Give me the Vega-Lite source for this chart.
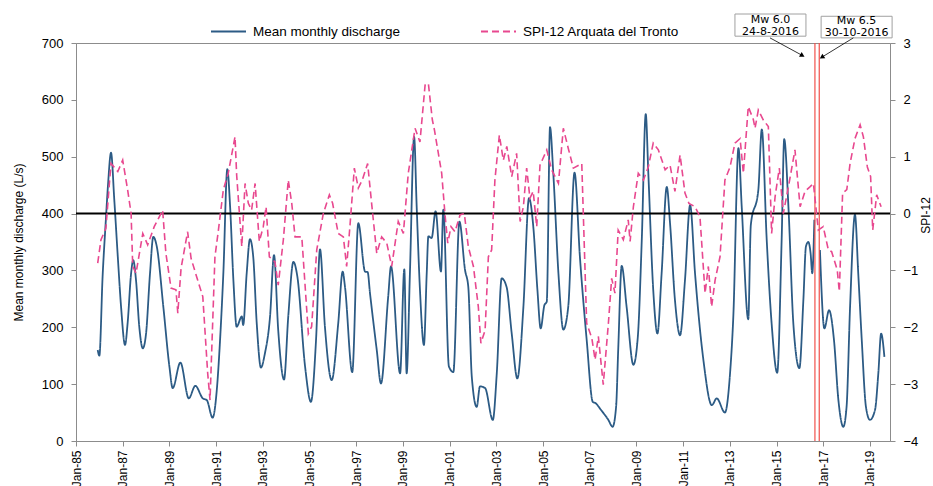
{
  "$schema": "https://vega.github.io/schema/vega-lite/v6.json",
  "width": 814,
  "height": 398,
  "autosize": {"type": "none"},
  "padding": {"left": 76, "top": 43, "right": 43, "bottom": 45},
  "background": "white",
  "config": {
    "view": {"stroke": "#8c8c8c", "strokeWidth": 1},
    "axis": {"labelFont": "Liberation Sans", "labelFontSize": 13, "labelColor": "#000", "titleFont": "Liberation Sans", "titleFontSize": 12, "titleFontWeight": "normal", "titleColor": "#000", "domainColor": "#8c8c8c", "tickColor": "#8c8c8c", "grid": false},
    "legend": {"labelFont": "Liberation Sans", "labelFontSize": 13.5, "labelColor": "#000", "padding": 0},
    "text": {"fontWeight": "normal"}
  },
  "data": {"values": [
    {"s":"Q","t":1985.93,"v":160},{"s":"Q","t":1986.00,"v":150},{"s":"Q","t":1986.14,"v":290},{"s":"Q","t":1986.28,"v":390},{"s":"Q","t":1986.37,"v":450},{"s":"Q","t":1986.50,"v":507},{"s":"Q","t":1986.64,"v":424},{"s":"Q","t":1986.79,"v":324},{"s":"Q","t":1986.93,"v":236},{"s":"Q","t":1987.10,"v":169},{"s":"Q","t":1987.21,"v":207},{"s":"Q","t":1987.36,"v":295},{"s":"Q","t":1987.45,"v":318},{"s":"Q","t":1987.57,"v":283},{"s":"Q","t":1987.71,"v":201},{"s":"Q","t":1987.86,"v":163},{"s":"Q","t":1988.00,"v":189},{"s":"Q","t":1988.17,"v":295},{"s":"Q","t":1988.31,"v":359},{"s":"Q","t":1988.46,"v":342},{"s":"Q","t":1988.74,"v":236},{"s":"Q","t":1989.00,"v":131},{"s":"Q","t":1989.14,"v":93},{"s":"Q","t":1989.47,"v":138},{"s":"Q","t":1989.83,"v":75},{"s":"Q","t":1990.11,"v":97},{"s":"Q","t":1990.43,"v":75},{"s":"Q","t":1990.60,"v":72},{"s":"Q","t":1990.85,"v":41},{"s":"Q","t":1991.03,"v":90},{"s":"Q","t":1991.17,"v":178},{"s":"Q","t":1991.31,"v":295},{"s":"Q","t":1991.48,"v":478},{"s":"Q","t":1991.60,"v":412},{"s":"Q","t":1991.74,"v":283},{"s":"Q","t":1991.88,"v":201},{"s":"Q","t":1992.10,"v":219},{"s":"Q","t":1992.16,"v":204},{"s":"Q","t":1992.31,"v":295},{"s":"Q","t":1992.45,"v":355},{"s":"Q","t":1992.59,"v":324},{"s":"Q","t":1992.74,"v":207},{"s":"Q","t":1992.92,"v":129},{"s":"Q","t":1993.09,"v":154},{"s":"Q","t":1993.31,"v":219},{"s":"Q","t":1993.48,"v":327},{"s":"Q","t":1993.66,"v":195},{"s":"Q","t":1993.91,"v":108},{"s":"Q","t":1994.09,"v":219},{"s":"Q","t":1994.31,"v":315},{"s":"Q","t":1994.48,"v":289},{"s":"Q","t":1994.81,"v":131},{"s":"Q","t":1995.06,"v":69},{"s":"Q","t":1995.28,"v":178},{"s":"Q","t":1995.45,"v":337},{"s":"Q","t":1995.66,"v":201},{"s":"Q","t":1995.95,"v":107},{"s":"Q","t":1996.23,"v":207},{"s":"Q","t":1996.42,"v":298},{"s":"Q","t":1996.52,"v":271},{"s":"Q","t":1996.83,"v":121},{"s":"Q","t":1997.09,"v":383},{"s":"Q","t":1997.38,"v":298},{"s":"Q","t":1997.49,"v":297},{"s":"Q","t":1997.59,"v":260},{"s":"Q","t":1997.88,"v":160},{"s":"Q","t":1998.06,"v":101},{"s":"Q","t":1998.37,"v":254},{"s":"Q","t":1998.49,"v":307},{"s":"Q","t":1998.88,"v":119},{"s":"Q","t":1999.06,"v":302},{"s":"Q","t":1999.16,"v":119},{"s":"Q","t":1999.30,"v":295},{"s":"Q","t":1999.48,"v":535},{"s":"Q","t":1999.59,"v":412},{"s":"Q","t":1999.73,"v":266},{"s":"Q","t":1999.90,"v":169},{"s":"Q","t":2000.02,"v":295},{"s":"Q","t":2000.09,"v":360},{"s":"Q","t":2000.23,"v":357},{"s":"Q","t":2000.40,"v":404},{"s":"Q","t":2000.63,"v":298},{"s":"Q","t":2000.73,"v":407},{"s":"Q","t":2000.97,"v":131},{"s":"Q","t":2001.16,"v":121},{"s":"Q","t":2001.42,"v":386},{"s":"Q","t":2001.66,"v":301},{"s":"Q","t":2001.80,"v":271},{"s":"Q","t":2001.95,"v":113},{"s":"Q","t":2002.16,"v":60},{"s":"Q","t":2002.30,"v":96},{"s":"Q","t":2002.52,"v":93},{"s":"Q","t":2002.85,"v":37},{"s":"Q","t":2003.02,"v":119},{"s":"Q","t":2003.23,"v":286},{"s":"Q","t":2003.44,"v":271},{"s":"Q","t":2003.66,"v":189},{"s":"Q","t":2003.90,"v":110},{"s":"Q","t":2004.16,"v":236},{"s":"Q","t":2004.40,"v":427},{"s":"Q","t":2004.59,"v":374},{"s":"Q","t":2004.76,"v":266},{"s":"Q","t":2004.90,"v":198},{"s":"Q","t":2005.06,"v":239},{"s":"Q","t":2005.16,"v":245},{"s":"Q","t":2005.30,"v":552},{"s":"Q","t":2005.44,"v":471},{"s":"Q","t":2005.66,"v":295},{"s":"Q","t":2005.87,"v":196},{"s":"Q","t":2006.08,"v":236},{"s":"Q","t":2006.35,"v":472},{"s":"Q","t":2006.58,"v":324},{"s":"Q","t":2006.87,"v":178},{"s":"Q","t":2007.13,"v":69},{"s":"Q","t":2007.27,"v":66},{"s":"Q","t":2007.44,"v":57},{"s":"Q","t":2007.80,"v":37},{"s":"Q","t":2007.98,"v":25},{"s":"Q","t":2008.13,"v":60},{"s":"Q","t":2008.22,"v":160},{"s":"Q","t":2008.37,"v":308},{"s":"Q","t":2008.58,"v":236},{"s":"Q","t":2008.87,"v":134},{"s":"Q","t":2009.06,"v":183},{"s":"Q","t":2009.23,"v":354},{"s":"Q","t":2009.40,"v":575},{"s":"Q","t":2009.51,"v":471},{"s":"Q","t":2009.72,"v":266},{"s":"Q","t":2009.90,"v":189},{"s":"Q","t":2010.08,"v":295},{"s":"Q","t":2010.30,"v":447},{"s":"Q","t":2010.44,"v":383},{"s":"Q","t":2010.65,"v":248},{"s":"Q","t":2010.87,"v":186},{"s":"Q","t":2011.08,"v":283},{"s":"Q","t":2011.30,"v":415},{"s":"Q","t":2011.51,"v":295},{"s":"Q","t":2011.87,"v":142},{"s":"Q","t":2012.23,"v":63},{"s":"Q","t":2012.44,"v":75},{"s":"Q","t":2012.79,"v":50},{"s":"Q","t":2013.01,"v":119},{"s":"Q","t":2013.15,"v":219},{"s":"Q","t":2013.37,"v":515},{"s":"Q","t":2013.51,"v":412},{"s":"Q","t":2013.79,"v":214},{"s":"Q","t":2013.90,"v":380},{"s":"Q","t":2014.22,"v":441},{"s":"Q","t":2014.37,"v":548},{"s":"Q","t":2014.58,"v":354},{"s":"Q","t":2014.79,"v":207},{"s":"Q","t":2015.03,"v":120},{"s":"Q","t":2015.22,"v":354},{"s":"Q","t":2015.33,"v":531},{"s":"Q","t":2015.51,"v":412},{"s":"Q","t":2015.72,"v":207},{"s":"Q","t":2015.98,"v":128},{"s":"Q","t":2016.15,"v":248},{"s":"Q","t":2016.26,"v":342},{"s":"Q","t":2016.36,"v":350},{"s":"Q","t":2016.46,"v":330},{"s":"Q","t":2016.53,"v":295},{"s":"Q","t":2016.62,"v":389},{"s":"Q","t":2016.72,"v":null},{"s":"Q","t":2016.86,"v":336},{"s":"Q","t":2017.05,"v":198},{"s":"Q","t":2017.25,"v":230},{"s":"Q","t":2017.46,"v":178},{"s":"Q","t":2017.65,"v":72},{"s":"Q","t":2017.86,"v":25},{"s":"Q","t":2018.00,"v":60},{"s":"Q","t":2018.15,"v":236},{"s":"Q","t":2018.36,"v":398},{"s":"Q","t":2018.50,"v":295},{"s":"Q","t":2018.65,"v":178},{"s":"Q","t":2018.83,"v":60},{"s":"Q","t":2019.00,"v":37},{"s":"Q","t":2019.22,"v":55},{"s":"Q","t":2019.36,"v":119},{"s":"Q","t":2019.48,"v":189},{"s":"Q","t":2019.62,"v":148},
    {"s":"S","t":1985.93,"v":-0.87},{"s":"S","t":1986.07,"v":-0.46},{"s":"S","t":1986.28,"v":-0.26},{"s":"S","t":1986.43,"v":0.53},{"s":"S","t":1986.50,"v":0.88},{"s":"S","t":1986.79,"v":0.74},{"s":"S","t":1987.00,"v":0.94},{"s":"S","t":1987.21,"v":0.42},{"s":"S","t":1987.36,"v":0.0},{"s":"S","t":1987.43,"v":-0.93},{"s":"S","t":1987.57,"v":-1.05},{"s":"S","t":1987.86,"v":-0.35},{"s":"S","t":1988.07,"v":-0.55},{"s":"S","t":1988.35,"v":-0.23},{"s":"S","t":1988.71,"v":0.06},{"s":"S","t":1988.85,"v":-0.70},{"s":"S","t":1989.07,"v":-1.31},{"s":"S","t":1989.28,"v":-1.34},{"s":"S","t":1989.36,"v":-1.75},{"s":"S","t":1989.50,"v":-0.96},{"s":"S","t":1989.78,"v":-0.32},{"s":"S","t":1989.93,"v":-0.79},{"s":"S","t":1990.21,"v":-1.17},{"s":"S","t":1990.43,"v":-1.46},{"s":"S","t":1990.64,"v":-2.81},{"s":"S","t":1990.74,"v":-3.28},{"s":"S","t":1990.95,"v":-0.76},{"s":"S","t":1991.09,"v":-0.32},{"s":"S","t":1991.31,"v":0.42},{"s":"S","t":1991.52,"v":0.71},{"s":"S","t":1991.81,"v":1.35},{"s":"S","t":1991.88,"v":0.68},{"s":"S","t":1992.10,"v":-0.58},{"s":"S","t":1992.24,"v":0.53},{"s":"S","t":1992.38,"v":0.18},{"s":"S","t":1992.52,"v":0.06},{"s":"S","t":1992.67,"v":0.53},{"s":"S","t":1992.85,"v":-0.49},{"s":"S","t":1993.02,"v":-0.23},{"s":"S","t":1993.14,"v":0.12},{"s":"S","t":1993.28,"v":-0.76},{"s":"S","t":1993.52,"v":-0.85},{"s":"S","t":1993.66,"v":-1.26},{"s":"S","t":1993.88,"v":-0.46},{"s":"S","t":1994.09,"v":0.59},{"s":"S","t":1994.24,"v":0.18},{"s":"S","t":1994.38,"v":-0.41},{"s":"S","t":1994.67,"v":-0.41},{"s":"S","t":1994.95,"v":-2.11},{"s":"S","t":1995.09,"v":-1.99},{"s":"S","t":1995.31,"v":-0.64},{"s":"S","t":1995.59,"v":0.0},{"s":"S","t":1995.85,"v":0.33},{"s":"S","t":1995.99,"v":0.18},{"s":"S","t":1996.23,"v":-0.35},{"s":"S","t":1996.45,"v":-0.41},{"s":"S","t":1996.59,"v":-0.93},{"s":"S","t":1996.73,"v":-0.23},{"s":"S","t":1996.92,"v":0.80},{"s":"S","t":1997.09,"v":0.45},{"s":"S","t":1997.26,"v":0.59},{"s":"S","t":1997.49,"v":0.88},{"s":"S","t":1997.66,"v":0.18},{"s":"S","t":1997.88,"v":-0.70},{"s":"S","t":1998.09,"v":-0.41},{"s":"S","t":1998.31,"v":-0.52},{"s":"S","t":1998.52,"v":-0.93},{"s":"S","t":1998.80,"v":-0.14},{"s":"S","t":1999.02,"v":-0.35},{"s":"S","t":1999.23,"v":0.71},{"s":"S","t":1999.52,"v":1.50},{"s":"S","t":1999.73,"v":1.26},{"s":"S","t":1999.95,"v":2.26},{"s":"S","t":2000.09,"v":2.29},{"s":"S","t":2000.26,"v":1.65},{"s":"S","t":2000.35,"v":1.47},{"s":"S","t":2000.66,"v":0.71},{"s":"S","t":2000.80,"v":0.0},{"s":"S","t":2000.92,"v":-0.52},{"s":"S","t":2001.06,"v":-0.23},{"s":"S","t":2001.23,"v":-0.32},{"s":"S","t":2001.45,"v":-0.02},{"s":"S","t":2001.63,"v":0.0},{"s":"S","t":2001.80,"v":-0.58},{"s":"S","t":2002.02,"v":-0.93},{"s":"S","t":2002.23,"v":-1.64},{"s":"S","t":2002.34,"v":-2.28},{"s":"S","t":2002.52,"v":-2.05},{"s":"S","t":2002.66,"v":-0.76},{"s":"S","t":2002.80,"v":-0.64},{"s":"S","t":2002.94,"v":0.59},{"s":"S","t":2003.13,"v":1.38},{"s":"S","t":2003.30,"v":0.94},{"s":"S","t":2003.45,"v":1.18},{"s":"S","t":2003.66,"v":0.65},{"s":"S","t":2003.87,"v":1.06},{"s":"S","t":2004.02,"v":-0.14},{"s":"S","t":2004.16,"v":0.12},{"s":"S","t":2004.30,"v":0.80},{"s":"S","t":2004.44,"v":0.27},{"s":"S","t":2004.58,"v":0.39},{"s":"S","t":2004.73,"v":-0.23},{"s":"S","t":2004.87,"v":0.85},{"s":"S","t":2005.16,"v":1.12},{"s":"S","t":2005.37,"v":0.77},{"s":"S","t":2005.66,"v":0.53},{"s":"S","t":2005.87,"v":1.50},{"s":"S","t":2006.08,"v":1.15},{"s":"S","t":2006.30,"v":0.80},{"s":"S","t":2006.66,"v":0.88},{"s":"S","t":2006.87,"v":-1.93},{"s":"S","t":2007.09,"v":-2.19},{"s":"S","t":2007.23,"v":-2.57},{"s":"S","t":2007.37,"v":-2.16},{"s":"S","t":2007.58,"v":-3.01},{"s":"S","t":2007.80,"v":-1.93},{"s":"S","t":2007.94,"v":-1.14},{"s":"S","t":2008.08,"v":-1.40},{"s":"S","t":2008.22,"v":-0.29},{"s":"S","t":2008.44,"v":-0.46},{"s":"S","t":2008.65,"v":-0.11},{"s":"S","t":2008.73,"v":-0.49},{"s":"S","t":2008.87,"v":0.12},{"s":"S","t":2009.08,"v":0.71},{"s":"S","t":2009.30,"v":0.59},{"s":"S","t":2009.51,"v":0.82},{"s":"S","t":2009.72,"v":1.24},{"s":"S","t":2009.94,"v":1.12},{"s":"S","t":2010.23,"v":0.77},{"s":"S","t":2010.44,"v":0.85},{"s":"S","t":2010.65,"v":0.39},{"s":"S","t":2010.87,"v":1.03},{"s":"S","t":2011.08,"v":0.36},{"s":"S","t":2011.25,"v":0.18},{"s":"S","t":2011.51,"v":0.12},{"s":"S","t":2011.72,"v":-0.05},{"s":"S","t":2011.94,"v":-1.40},{"s":"S","t":2012.08,"v":-0.93},{"s":"S","t":2012.22,"v":-1.64},{"s":"S","t":2012.37,"v":-1.17},{"s":"S","t":2012.58,"v":-0.76},{"s":"S","t":2012.79,"v":0.59},{"s":"S","t":2013.01,"v":0.82},{"s":"S","t":2013.22,"v":1.24},{"s":"S","t":2013.44,"v":1.32},{"s":"S","t":2013.58,"v":0.71},{"s":"S","t":2013.79,"v":1.88},{"s":"S","t":2014.01,"v":1.65},{"s":"S","t":2014.08,"v":1.50},{"s":"S","t":2014.22,"v":1.82},{"s":"S","t":2014.43,"v":1.65},{"s":"S","t":2014.65,"v":1.53},{"s":"S","t":2014.79,"v":-0.35},{"s":"S","t":2014.94,"v":0.30},{"s":"S","t":2015.12,"v":0.80},{"s":"S","t":2015.29,"v":0.0},{"s":"S","t":2015.51,"v":0.47},{"s":"S","t":2015.79,"v":1.12},{"s":"S","t":2016.01,"v":0.12},{"s":"S","t":2016.22,"v":0.39},{"s":"S","t":2016.43,"v":0.47},{"s":"S","t":2016.58,"v":0.53},{"s":"S","t":2016.79,"v":-0.29},{"s":"S","t":2017.00,"v":-0.23},{"s":"S","t":2017.22,"v":-0.64},{"s":"S","t":2017.36,"v":-0.67},{"s":"S","t":2017.60,"v":-0.99},{"s":"S","t":2017.69,"v":-1.37},{"s":"S","t":2017.83,"v":0.36},{"s":"S","t":2018.01,"v":0.42},{"s":"S","t":2018.15,"v":0.88},{"s":"S","t":2018.36,"v":1.32},{"s":"S","t":2018.58,"v":1.56},{"s":"S","t":2018.72,"v":1.35},{"s":"S","t":2018.89,"v":0.82},{"s":"S","t":2019.03,"v":0.65},{"s":"S","t":2019.12,"v":-0.29},{"s":"S","t":2019.29,"v":0.33},{"s":"S","t":2019.48,"v":0.12}
  ]},
  "layer": [
    {
      "layer": [
        {
          "transform": [{"filter": "datum.s == 'Q'"}],
          "mark": {"type": "line", "interpolate": "monotone", "strokeWidth": 1.8},
          "encoding": {
            "x": {"field": "t", "type": "quantitative", "scale": {"domain": [1985, 2019.86], "nice": false, "zero": false},
                  "axis": {"title": null, "values": [1985,1987,1989,1991,1993,1995,1997,1999,2001,2003,2005,2007,2009,2011,2013,2015,2017,2019], "labelExpr": "'Jan-' + slice(toString(datum.value), 2)", "labelAngle": 270, "tickSize": 5, "labelPadding": 4, "labelFontSize": 12}},
            "y": {"field": "v", "type": "quantitative", "scale": {"domain": [0, 700], "nice": false},
                  "axis": {"title": "Mean monthly discharge (L/s)", "values": [0,100,200,300,400,500,600,700], "tickSize": 5, "labelPadding": 8, "titlePadding": 16}},
            "color": {"field": "s", "type": "nominal", "scale": {"domain": ["Q", "S"], "range": ["#2c5b85", "#e8488f"]},
                      "legend": {"title": null, "orient": "none", "legendX": 134, "legendY": -30, "direction": "horizontal", "symbolType": "stroke", "symbolSize": 1225, "symbolStrokeWidth": 1.8, "columnPadding": 76, "labelOffset": 6, "labelExpr": "datum.label == 'Q' ? 'Mean monthly discharge' : 'SPI-12 Arquata del Tronto'"}},
            "strokeDash": {"field": "s", "type": "nominal", "scale": {"domain": ["Q", "S"], "range": [[1, 0], [7, 4]]},
                      "legend": {"title": null, "orient": "none", "legendX": 134, "legendY": -30, "direction": "horizontal", "symbolType": "stroke", "symbolSize": 1225, "symbolStrokeWidth": 1.8, "columnPadding": 76, "labelOffset": 6, "labelExpr": "datum.label == 'Q' ? 'Mean monthly discharge' : 'SPI-12 Arquata del Tronto'"}}
          }
        },
        {"data": {"values": [{}]}, "mark": {"type": "rule", "color": "#000", "strokeWidth": 2}, "encoding": {"y": {"datum": 400}}},
        {"data": {"values": [{}]}, "mark": {"type": "rule", "color": "#f0504a", "strokeWidth": 1.2}, "encoding": {"x": {"datum": 2016.645}}},
        {"data": {"values": [{}]}, "mark": {"type": "rule", "color": "#f0504a", "strokeWidth": 1.2}, "encoding": {"x": {"datum": 2016.83}}},
        {"data": {"values": [{}]}, "mark": {"type": "rect", "fill": "white", "stroke": "#a0a0a0", "strokeWidth": 1}, "encoding": {"x": {"datum": 2013.22}, "x2": {"datum": 2016.26}, "y": {"datum": 712}, "y2": {"datum": 751}}},
        {"data": {"values": [{}]}, "mark": {"type": "rect", "fill": "white", "stroke": "#a0a0a0", "strokeWidth": 1}, "encoding": {"x": {"datum": 2016.91}, "x2": {"datum": 2019.95}, "y": {"datum": 709}, "y2": {"datum": 747}}},
        {"data": {"values": [{}]}, "mark": {"type": "text", "font": "DejaVu Sans", "fontSize": 11, "fontWeight": "normal", "fill": "#000", "baseline": "middle"}, "encoding": {"x": {"datum": 2014.74}, "y": {"datum": 741}, "text": {"value": "Mw 6.0"}}},
        {"data": {"values": [{}]}, "mark": {"type": "text", "font": "DejaVu Sans", "fontSize": 11, "fontWeight": "normal", "fill": "#000", "baseline": "middle"}, "encoding": {"x": {"datum": 2014.74}, "y": {"datum": 720}, "text": {"value": "24-8-2016"}}},
        {"data": {"values": [{}]}, "mark": {"type": "text", "font": "DejaVu Sans", "fontSize": 11, "fontWeight": "normal", "fill": "#000", "baseline": "middle"}, "encoding": {"x": {"datum": 2018.43}, "y": {"datum": 738}, "text": {"value": "Mw 6.5"}}},
        {"data": {"values": [{}]}, "mark": {"type": "text", "font": "DejaVu Sans", "fontSize": 11, "fontWeight": "normal", "fill": "#000", "baseline": "middle"}, "encoding": {"x": {"datum": 2018.43}, "y": {"datum": 718}, "text": {"value": "30-10-2016"}}},
        {"data": {"values": [{}]}, "mark": {"type": "rule", "color": "#000", "strokeWidth": 0.8}, "encoding": {"x": {"datum": 2014.72}, "y": {"datum": 709}, "x2": {"datum": 2016.11}, "y2": {"datum": 678}}},
        {"data": {"values": [{}]}, "mark": {"type": "rule", "color": "#000", "strokeWidth": 0.8}, "encoding": {"x": {"datum": 2018.29}, "y": {"datum": 709}, "x2": {"datum": 2016.94}, "y2": {"datum": 675}}},
        {"data": {"values": [{}]}, "mark": {"type": "point", "shape": "triangle-up", "filled": true, "color": "#000", "size": 30, "angle": 119, "opacity": 1}, "encoding": {"x": {"datum": 2016.11}, "y": {"datum": 678}}},
        {"data": {"values": [{}]}, "mark": {"type": "point", "shape": "triangle-up", "filled": true, "color": "#000", "size": 30, "angle": 238, "opacity": 1}, "encoding": {"x": {"datum": 2016.94}, "y": {"datum": 675}}}
      ]
    },
    {
      "transform": [{"filter": "datum.s == 'S'"}],
      "mark": {"type": "line", "interpolate": "linear", "strokeWidth": 1.6},
      "encoding": {
        "x": {"field": "t", "type": "quantitative"},
        "y": {"field": "v", "type": "quantitative", "scale": {"domain": [-4, 3], "nice": false, "zero": false},
              "axis": {"orient": "right", "title": "SPI-12", "values": [-4,-3,-2,-1,0,1,2,3], "tickSize": 5, "labelPadding": 8, "titleAngle": 270, "titleX": 35, "titleY": 172, "titleBaseline": "middle"}},
        "color": {"field": "s", "type": "nominal"},
        "strokeDash": {"field": "s", "type": "nominal"}
      }
    }
  ],
  "resolve": {"scale": {"y": "independent"}}
}
